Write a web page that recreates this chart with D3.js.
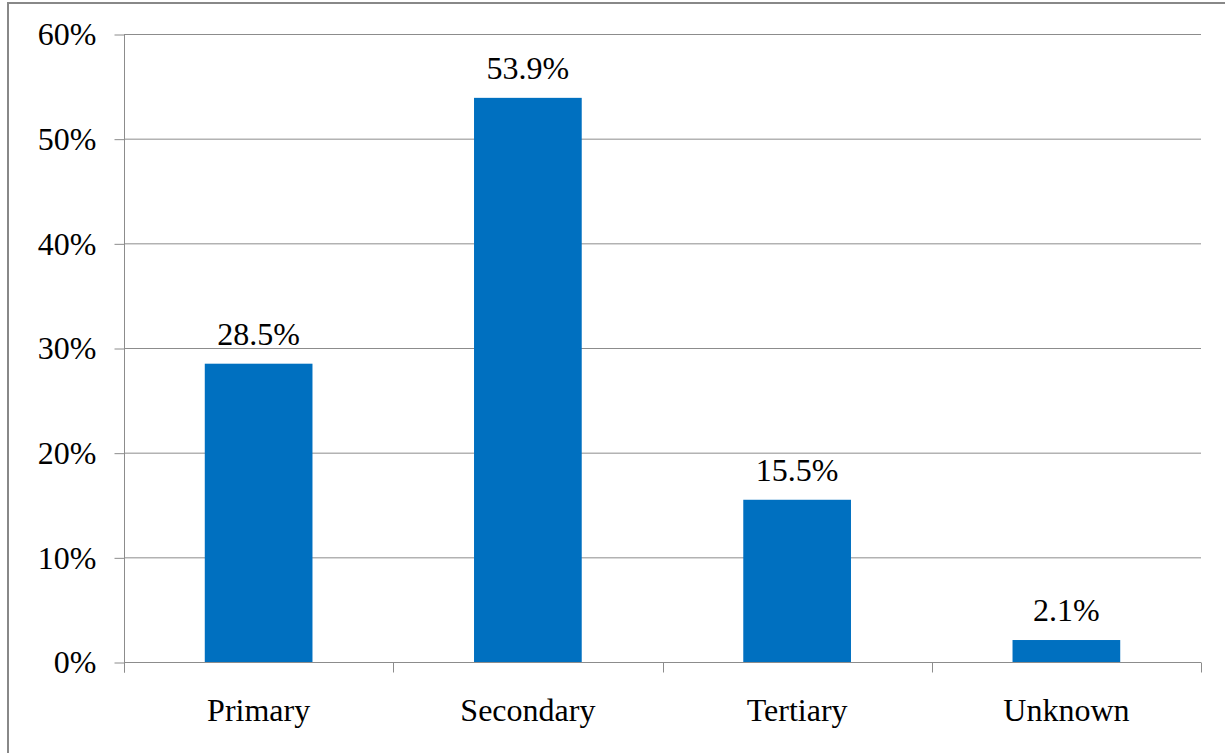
<!DOCTYPE html>
<html>
<head>
<meta charset="utf-8">
<script src="https://cdn.jsdelivr.net/npm/d3@7"></script>
</head>
<body style="margin:0; background:#fff">
<div id="chart"></div>
<script>
const categories = ['Primary', 'Secondary', 'Tertiary', 'Unknown'];
const shares = [28.5, 53.9, 15.5, 2.1];
const yTicks = [0, 10, 20, 30, 40, 50, 60];

const FONT = 'Liberation Serif';
const FONT_SIZE = 32;
const GRID = '#8c8c8c';

const width = 1225;
const height = 753;
const margin = { top: 34, right: 24, bottom: 91, left: 124 };
const chartWidth = width - margin.left - margin.right;
const chartHeight = height - margin.top - margin.bottom;

const svg = d3.select('#chart').append('svg').attr('width', width).attr('height', height);

// outer frame (only left and top edges show in the picture)
svg.append('rect')
    .attr('x', 8).attr('y', 3)
    .attr('width', width + 10).attr('height', height + 10)
    .attr('fill', 'none').attr('stroke', '#888').attr('stroke-width', 2);

const chart = svg.append('g').attr('transform', `translate(${margin.left}, ${margin.top})`);

const xScale = d3.scaleBand().domain(categories).range([0, chartWidth]).paddingInner(0.6).paddingOuter(0.3);
const yScale = d3.scaleLinear().domain([0, 60]).range([chartHeight, 0]);

// horizontal grid lines
chart.append('g')
    .selectAll('line')
    .data(yTicks.filter((t) => t > 0))
    .enter()
    .append('line')
    .attr('x1', 0)
    .attr('x2', chartWidth)
    .attr('y1', (t) => yScale(t) + 0.5)
    .attr('y2', (t) => yScale(t) + 0.5)
    .attr('stroke', GRID)
    .attr('stroke-width', 1);

// y axis
const yAxis = d3.axisLeft(yScale).tickValues(yTicks).tickSize(10).tickPadding(18).tickFormat((d) => d + '%');
const yg = chart.append('g').attr('transform', 'translate(0.5,0.5)').call(yAxis);
yg.attr('font-family', FONT).attr('font-size', FONT_SIZE);
yg.select('.domain').attr('stroke', GRID).attr('d', `M0,0V${chartHeight + 10}`);
yg.selectAll('.tick line').attr('stroke', GRID);
yg.selectAll('.tick text').attr('fill', '#000');

// x axis with ticks between categories
const xg = chart.append('g').attr('transform', `translate(0, ${chartHeight + 0.5})`);
xg.append('line').attr('x1', 0).attr('x2', chartWidth).attr('stroke', GRID);
const step = xScale.step();
const x0 = xScale(categories[0]) - step * xScale.paddingOuter();
xg.selectAll('.sep')
    .data(d3.range(categories.length + 1))
    .enter()
    .append('line')
    .attr('x1', (i) => Math.round(x0 + i * step) + 0.5)
    .attr('x2', (i) => Math.round(x0 + i * step) + 0.5)
    .attr('y1', 0)
    .attr('y2', 10)
    .attr('stroke', GRID);
xg.selectAll('.cat')
    .data(categories)
    .enter()
    .append('text')
    .attr('x', (c) => xScale(c) + xScale.bandwidth() / 2)
    .attr('y', 58)
    .attr('text-anchor', 'middle')
    .attr('font-family', FONT)
    .attr('font-size', FONT_SIZE)
    .text((c) => c);

// bars
chart.append('g')
    .selectAll('rect')
    .data(shares)
    .enter()
    .append('rect')
    .attr('x', (v, i) => xScale(categories[i]))
    .attr('y', (v) => yScale(v))
    .attr('width', xScale.bandwidth())
    .attr('height', (v) => chartHeight - yScale(v))
    .attr('fill', '#0070c0');

// value labels
chart.append('g')
    .selectAll('text')
    .data(shares)
    .enter()
    .append('text')
    .attr('x', (v, i) => xScale(categories[i]) + xScale.bandwidth() / 2)
    .attr('y', (v) => yScale(v) - 19)
    .attr('text-anchor', 'middle')
    .attr('font-family', FONT)
    .attr('font-size', FONT_SIZE)
    .text((v) => v.toFixed(1) + '%');
</script>
</body>
</html>
